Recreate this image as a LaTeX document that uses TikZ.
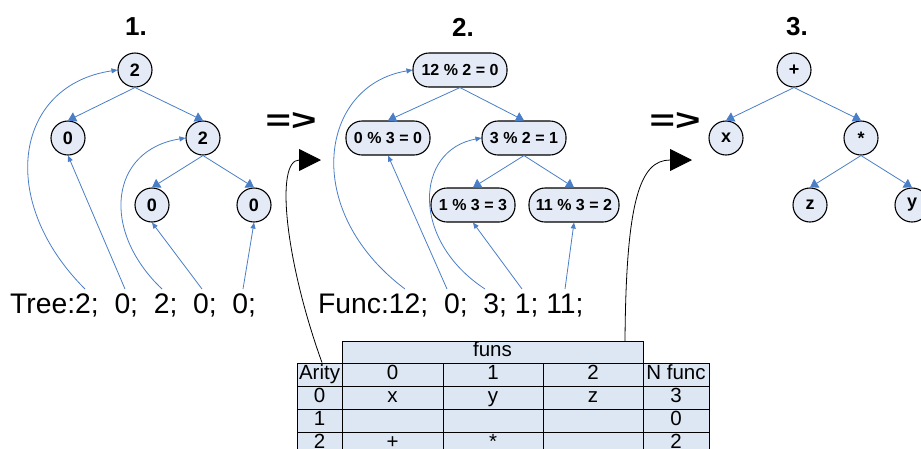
\documentclass[tikz,border=0pt]{standalone}
\usepackage{fontspec}
\usepackage{graphicx}
\setmainfont{Liberation Sans}
\usetikzlibrary{arrows.meta}
\definecolor{nfill}{HTML}{E4EBF6}
\definecolor{tfill}{HTML}{DDE6F3}
\definecolor{lblue}{HTML}{4A7EC6}
\begin{document}
\begin{tikzpicture}[x=1pt,y=-1pt,
 circ/.style={circle, draw=black, line width=1.1pt, fill=nfill, minimum size=34pt, inner sep=0pt, font=\fontsize{18}{18}\selectfont\bfseries},
 pill/.style={rectangle, rounded corners=16pt, draw=black, line width=1.1pt, fill=nfill, minimum height=34pt, inner sep=0pt, font=\fontsize{16}{16}\selectfont\bfseries},
 tedge/.style={draw=lblue, line width=0.8pt, -{Triangle[length=8pt,width=10pt]}},
 blink/.style={draw=lblue, line width=0.8pt, -{Triangle[length=6pt,width=5pt]}},
 bigarrow/.style={draw=black, line width=0.8pt, -{Triangle[length=22pt,width=22pt]}},
 hdr/.style={font=\fontsize{26}{26}\selectfont\bfseries},
 seq/.style={font=\fontsize{28.3}{28.3}\selectfont, anchor=base west, inner sep=0pt},
 imp/.style={font=\fontsize{30}{30}\selectfont\bfseries, inner sep=0pt},
 tcell/.style={rectangle, draw=black, line width=0.8pt, fill=tfill, inner sep=0pt, minimum height=23pt, text height=15pt, text depth=5.4pt, font=\fontsize{20.5}{20.5}\selectfont},
 ca/.style={tcell, minimum width=45pt},
 cb/.style={tcell, minimum width=101pt},
 cc/.style={tcell, minimum width=100pt},
 cd/.style={tcell, minimum width=66pt},
]
\useasboundingbox (0,0) rectangle (921,448);
\clip (0,0) rectangle (921,448);

% headers
\node[hdr] (h1) at (136,27) {1.};
\node[hdr] (h2) at (463,27) {2.};
\node[hdr] (h3) at (797,27) {3.};

% tree 1
\node[circ] (a) at (135,70) {2};
\node[circ] (b) at (68,138) {0};
\node[circ] (c) at (203,138) {2};
\node[circ] (d) at (152,205) {0};
\node[circ] (e) at (254,205) {0};
\draw[tedge] (a.south) -- (b.north);
\draw[tedge] (a.south) -- (c.north);
\draw[tedge] (c.south) -- (d.north);
\draw[tedge] (c.south) -- (e.north);

\node[seq] (t1) at (10,313) {Tree:2;~~0;~~2;~~0;~~0;};
\coordinate (s1) at (85,289);
\coordinate (s2) at (125,289);
\coordinate (s3) at (162,289);
\coordinate (s4) at (202,289);
\coordinate (s5) at (243,289);
\draw[blink] (s1) .. controls (-4,200) and (15,85) .. (a.west);
\draw[blink] (s2) -- (b.south);
\draw[blink] (s3) .. controls (100,230) and (110,150) .. (c.west);
\draw[blink] (s4) -- (d.south);
\draw[blink] (s5) -- (e.south);

% tree 2
\node[pill, minimum width=94pt] (r2) at (460,70) {12 \% 2 = 0};
\node[pill, minimum width=84pt] (l2) at (388,138) {0 \% 3 = 0};
\node[pill, minimum width=84pt] (m2) at (524,138) {3 \% 2 = 1};
\node[pill, minimum width=84pt] (p2) at (473,205) {1 \% 3 = 3};
\node[pill, minimum width=90pt] (q2) at (574,205) {11 \% 3 = 2};
\draw[tedge] (r2.south) -- (l2.north);
\draw[tedge] (r2.south) -- (m2.north);
\draw[tedge] (m2.south) -- (p2.north);
\draw[tedge] (m2.south) -- (q2.north);

\node[seq] (t2) at (318,313) {Func:12;~~0;~~3;~1;~11;};
\coordinate (u1) at (405,289);
\coordinate (u2) at (447,289);
\coordinate (u3) at (485,289);
\coordinate (u4) at (522,289);
\coordinate (u5) at (565,289);
\draw[blink] (u1) .. controls (300,210) and (320,85) .. (r2.west);
\draw[blink] (u2) -- (l2.south);
\draw[blink] (u3) .. controls (410,240) and (415,150) .. (m2.west);
\draw[blink] (u4) -- (p2.south);
\draw[blink] (u5) -- (q2.south);

% tree 3
\node[circ] (pl) at (794,70) {+};
\node[circ] (xx) at (726,138) {x};
\node[circ] (st) at (861,138) {*};
\node[circ] (zz) at (810,205) {z};
\node[circ] (yy) at (912,205) {y};
\draw[tedge] (pl.south) -- (xx.north);
\draw[tedge] (pl.south) -- (st.north);
\draw[tedge] (st.south) -- (zz.north);
\draw[tedge] (st.south) -- (yy.north);

% implication signs
\node[imp] (i1) at (291,121) {\scalebox{1.45}[1]{=>}};
\node[imp] (i2) at (675,121) {\scalebox{1.45}[1]{=>}};

% table
\node[tcell, minimum width=301pt, minimum height=22pt] (funs) at (492.5,352) {funs};
\node[ca] (r0c0) at (319.5,374.5) {Arity};
\node[cb] (r0c1) at (392.5,374.5) {0};
\node[cc] (r0c2) at (493,374.5) {1};
\node[cc] (r0c3) at (593,374.5) {2};
\node[cd] (r0c4) at (676,374.5) {N func};
\node[ca] (r1c0) at (319.5,397.5) {0};
\node[cb] (r1c1) at (392.5,397.5) {x};
\node[cc] (r1c2) at (493,397.5) {y};
\node[cc] (r1c3) at (593,397.5) {z};
\node[cd] (r1c4) at (676,397.5) {3};
\node[ca] (r2c0) at (319.5,420.5) {1};
\node[cb] (r2c1) at (392.5,420.5) {};
\node[cc] (r2c2) at (493,420.5) {};
\node[cc] (r2c3) at (593,420.5) {};
\node[cd] (r2c4) at (676,420.5) {0};
\node[ca] (r3c0) at (319.5,443.5) {2};
\node[cb] (r3c1) at (392.5,443.5) {+};
\node[cc] (r3c2) at (493,443.5) {*};
\node[cc] (r3c3) at (593,443.5) {};
\node[cd] (r3c4) at (676,443.5) {2};

% black connectors
\coordinate (tip1) at (321,160);
\coordinate (tip2) at (692,160);
\coordinate (k2) at (625,341);
\draw[bigarrow] ([xshift=2.5pt]r0c0.north) .. controls (285,260) and (275,160) .. (tip1);
\draw[bigarrow] (k2) .. controls (626,200) and (640,160) .. (tip2);
\end{tikzpicture}
\end{document}
